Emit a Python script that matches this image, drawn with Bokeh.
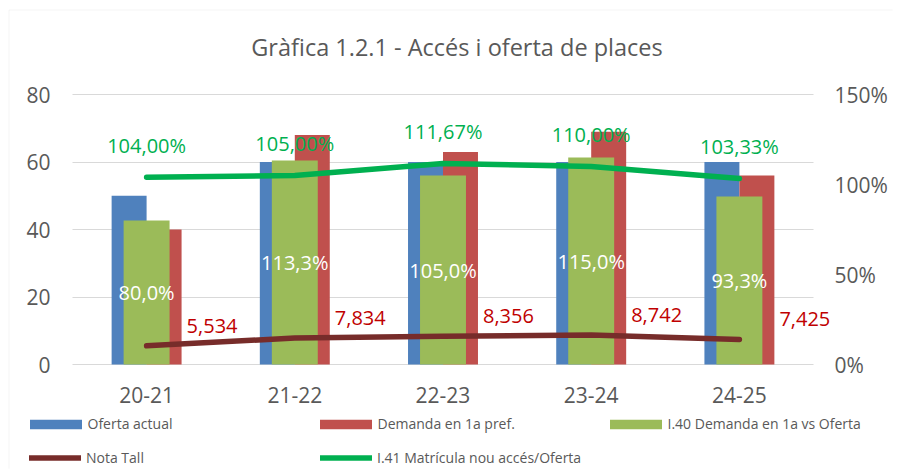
from bokeh.plotting import figure
from bokeh.models import (ColumnDataSource, Range1d, LinearAxis, FixedTicker,
                          LabelSet, Label, Legend, LegendItem, BoxAnnotation)
from bokeh.core.properties import value
from bokeh.embed import file_html
from bokeh.resources import INLINE

# ---- data ----
categories = ["20-21", "21-22", "22-23", "23-24", "24-25"]
oferta = [50, 60, 60, 60, 60]
demanda = [40, 68, 63, 69, 56]
i40 = [80.0, 113.3, 105.0, 115.0, 93.3]
nota_tall = [5.534, 7.834, 8.356, 8.742, 7.425]
i41 = [104.00, 105.00, 111.67, 110.00, 103.33]
left_ticks = [0, 20, 40, 60, 80]
right_ticks = [0, 50, 100, 150]
right_tick_labels = ["0%", "50%", "100%", "150%"]
title_text = "Gràfica 1.2.1 - Accés i oferta de places"
series_names = ["Oferta actual", "Demanda en 1a pref.", "I.40 Demanda en 1a vs Oferta",
                "Nota Tall", "I.41 Matrícula nou accés/Oferta"]

FONT = "Open Sans"
GRAY = "#595959"
BLUE = "#4F81BD"
RED = "#C0504D"
GREEN = "#9BBB59"
LINE_GREEN = "#00B050"
DARK_RED = "#772C2A"
LABEL_RED = "#C00000"

n = len(categories)
xs = [i + 0.5 for i in range(n)]

src = ColumnDataSource(dict(
    x=xs,
    x_left=[x - 0.118 for x in xs],
    x_right=[x + 0.118 for x in xs],
    oferta=oferta, demanda=demanda, i40=i40,
    i40_mid=[v / 2 for v in i40],
    i40_txt=[f"{v:.1f}%".replace(".", ",") for v in i40],
    nota=nota_tall,
    nota_txt=[f"{v:.3f}".replace(".", ",") for v in nota_tall],
    i41=i41,
    i41_txt=[f"{v:.2f}%".replace(".", ",") for v in i41],
))

# ---- layout (page px) ----
W, H = 900, 470
FL, FR, FT, FB = 7, 892, 8, 468            # drawing frame edges
PL, PR, PT, PB = 72, 813, 94, 364          # visible plot area (0..n, 0..80)
cat_px = (PR - PL) / n
ly_px = (PB - PT) / 80.0
ry_px = (PB - PT) / 150.0

x_rng = Range1d((FL - PL) / cat_px, (FR - PL) / cat_px)
y_rng = Range1d(-(FB - PB) / ly_px, 80 + (PT - FT) / ly_px)
r_rng = Range1d(-(FB - PB) / ry_px, 150 + (PT - FT) / ry_px)

p = figure(width=W, height=H, x_range=x_rng, y_range=y_rng,
           output_backend="svg", toolbar_location=None,
           min_border_left=FL, min_border_right=W - FR, min_border_top=FT,
           min_border_bottom=H - FB)
p.extra_y_ranges = {"pct": r_rng}
p.outline_line_color = None
p.background_fill_color = "white"
p.border_fill_color = "white"

# chart border
p.add_layout(BoxAnnotation(left=8.5, right=W + 20, top=9.5, bottom=H + 20,
                           left_units="canvas", right_units="canvas",
                           top_units="canvas", bottom_units="canvas",
                           fill_alpha=0, line_color="#D9D9D9", line_width=1,
                           level="underlay"))

# title
p.add_layout(Label(x=(456.5 - PL) / cat_px, y=80 + (PT - 46) / ly_px, text=title_text,
                   text_align="center", text_baseline="middle", text_font=FONT,
                   text_font_size="23.5px", text_color=GRAY))

# bars
b1 = p.vbar(x="x_left", top="oferta", width=0.236, source=src, fill_color=BLUE, line_color=None)
b2 = p.vbar(x="x_right", top="demanda", width=0.236, source=src, fill_color=RED, line_color=None)
b3 = p.vbar(x="x", top="i40", width=0.31, source=src, fill_color=GREEN,
            line_color=None, y_range_name="pct")

# lines
l1 = p.line(x="x", y="nota", source=src, line_color=DARK_RED, line_width=5.5,
            line_cap="round", line_join="round")
l2 = p.line(x="x", y="i41", source=src, line_color=LINE_GREEN, line_width=5.5,
            line_cap="round", line_join="round", y_range_name="pct")

# axes
p.xaxis.ticker = FixedTicker(ticks=xs)
p.xaxis.major_label_overrides = {x: c for x, c in zip(xs, categories)}
p.yaxis.ticker = FixedTicker(ticks=left_ticks)
p.ygrid.ticker = FixedTicker(ticks=left_ticks)
p.ygrid.grid_line_color = "#D9D9D9"
p.ygrid.grid_line_width = 1
p.ygrid.cross_bounds = (0, n)
p.xgrid.grid_line_color = None

right = LinearAxis(y_range_name="pct", ticker=FixedTicker(ticks=right_ticks),
                   major_label_overrides={t: l for t, l in zip(right_ticks, right_tick_labels)})
p.add_layout(right, "right")

for ax in [p.yaxis[0], right, p.xaxis[0]]:
    ax.axis_line_color = None
    ax.major_tick_line_color = None
    ax.minor_tick_line_color = None
    ax.major_tick_out = 0
    ax.major_tick_in = 0
    ax.minor_tick_out = 0
    ax.major_label_text_font = FONT
    ax.major_label_text_font_size = "21px"
    ax.major_label_text_color = GRAY
p.yaxis[0].major_label_standoff = FL - 50
right.major_label_standoff = 834 - FR
p.xaxis[0].major_label_standoff = int(385.5 - FB)

# data labels
lbl_font = dict(text_font=value(FONT), text_font_size=value("20px"))
p.add_layout(LabelSet(x="x", y="i40_mid", text="i40_txt", source=src, y_range_name="pct",
                      text_align="center", text_baseline="middle", text_color="white",
                      **lbl_font))
p.add_layout(LabelSet(x="x", y="nota", text="nota_txt", source=src, x_offset=40, y_offset=20,
                      text_align="left", text_baseline="middle", text_color=LABEL_RED,
                      **lbl_font))
p.add_layout(LabelSet(x="x", y="i41", text="i41_txt", source=src, y_range_name="pct",
                      y_offset=32, text_align="center", text_baseline="middle",
                      text_color=LINE_GREEN, **lbl_font))

# legends: bars row and lines row
common = dict(orientation="horizontal", padding=0, margin=0, spacing=15, label_height=19,
              border_line_color=None, background_fill_alpha=0,
              label_text_font=FONT, label_text_font_size="14px", label_text_color=GRAY)
legend_bars = Legend(items=[LegendItem(label=series_names[0], renderers=[b1]),
                            LegendItem(label=series_names[1], renderers=[b2]),
                            LegendItem(label=series_names[2], renderers=[b3])],
                     location=(22.5 - FL, 35), glyph_width=65, glyph_height=12,
                     label_standoff=-2, label_width=210, **common)
legend_lines = Legend(items=[LegendItem(label=series_names[3], renderers=[l1]),
                             LegendItem(label=series_names[4], renderers=[l2])],
                      location=(29 - FL, 1), glyph_width=52, glyph_height=9,
                      label_standoff=5, label_width=219, **common)
p.add_layout(legend_bars, "center")
p.add_layout(legend_lines, "center")

open("out.html", "w").write(file_html(p, INLINE))
